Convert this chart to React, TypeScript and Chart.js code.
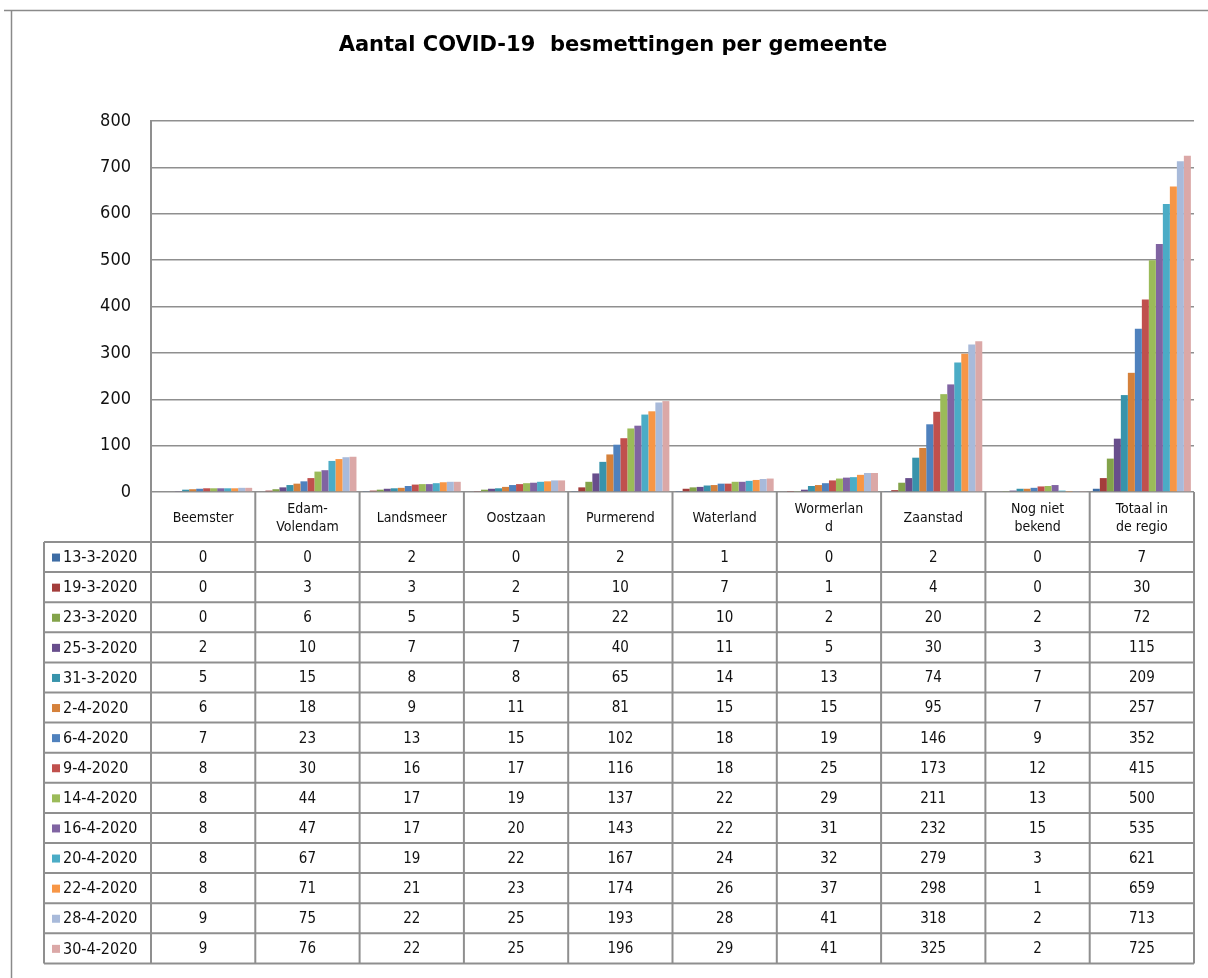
import React, { useEffect, useRef } from "react";
import { Chart, registerables } from "chart.js";

Chart.register(...registerables);

const TITLE = "Aantal COVID-19  besmettingen per gemeente";

const categories: string[][] = [
  ["Beemster"],
  ["Edam-", "Volendam"],
  ["Landsmeer"],
  ["Oostzaan"],
  ["Purmerend"],
  ["Waterland"],
  ["Wormerlan", "d"],
  ["Zaanstad"],
  ["Nog niet", "bekend"],
  ["Totaal in", "de regio"],
];

const dates = [
  "13-3-2020", "19-3-2020", "23-3-2020", "25-3-2020", "31-3-2020", "2-4-2020", "6-4-2020",
  "9-4-2020", "14-4-2020", "16-4-2020", "20-4-2020", "22-4-2020", "28-4-2020", "30-4-2020",
];

const d13_3 = [0, 0, 2, 0, 2, 1, 0, 2, 0, 7];
const d19_3 = [0, 3, 3, 2, 10, 7, 1, 4, 0, 30];
const d23_3 = [0, 6, 5, 5, 22, 10, 2, 20, 2, 72];
const d25_3 = [2, 10, 7, 7, 40, 11, 5, 30, 3, 115];
const d31_3 = [5, 15, 8, 8, 65, 14, 13, 74, 7, 209];
const d2_4 = [6, 18, 9, 11, 81, 15, 15, 95, 7, 257];
const d6_4 = [7, 23, 13, 15, 102, 18, 19, 146, 9, 352];
const d9_4 = [8, 30, 16, 17, 116, 18, 25, 173, 12, 415];
const d14_4 = [8, 44, 17, 19, 137, 22, 29, 211, 13, 500];
const d16_4 = [8, 47, 17, 20, 143, 22, 31, 232, 15, 535];
const d20_4 = [8, 67, 19, 22, 167, 24, 32, 279, 3, 621];
const d22_4 = [8, 71, 21, 23, 174, 26, 37, 298, 1, 659];
const d28_4 = [9, 75, 22, 25, 193, 28, 41, 318, 2, 713];
const d30_4 = [9, 76, 22, 25, 196, 29, 41, 325, 2, 725];

const seriesValues = [
  d13_3, d19_3, d23_3, d25_3, d31_3, d2_4, d6_4, d9_4, d14_4, d16_4, d20_4, d22_4, d28_4, d30_4,
];

const colors = [
  "#3D6CA4", "#A33D3B", "#83A34A", "#684E8C", "#3893AB", "#D5813B", "#4F81BD",
  "#C0504D", "#9BBB59", "#8064A2", "#4BACC6", "#F79646", "#A8BADA", "#DBA8A7",
];

const yTicks = [0, 100, 200, 300, 400, 500, 600, 700, 800];

const FONT = "'DejaVu Sans Condensed', 'DejaVu Sans', sans-serif";
const TITLE_FONT = "'DejaVu Sans', sans-serif";
const LINE = "#8f8f8f";

const tablePlugin = {
  id: "dataTable",
  afterDraw(chart: any) {
    const { ctx, chartArea } = chart;
    const xs = chart.scales.x;
    const n = categories.length;
    const colW = (xs.right - xs.left) / n;
    const top = chartArea.bottom;
    const headerH = 50;
    const rowH = 30.1;
    const legendLeft = 44;
    const bodyTop = top + headerH;
    const bottom = bodyTop + rowH * dates.length;

    ctx.save();
    // outer frame
    ctx.strokeStyle = "#8a8a8a";
    ctx.lineWidth = 1.5;
    ctx.beginPath();
    ctx.moveTo(4, 10.5);
    ctx.lineTo(chart.width + 5, 10.5);
    ctx.moveTo(11.5, 10.5);
    ctx.lineTo(11.5, chart.height + 5);
    ctx.stroke();

    // title
    ctx.fillStyle = "#000";
    ctx.font = `bold 21px ${TITLE_FONT}`;
    ctx.textAlign = "center";
    ctx.textBaseline = "middle";
    ctx.fillText(TITLE, 613, 46);

    // table lines
    ctx.strokeStyle = LINE;
    ctx.lineWidth = 2;
    ctx.beginPath();
    for (let k = 0; k <= dates.length; k++) {
      const y = bodyTop + k * rowH;
      ctx.moveTo(legendLeft, y);
      ctx.lineTo(xs.right, y);
    }
    ctx.moveTo(legendLeft, bodyTop);
    ctx.lineTo(legendLeft, bottom);
    for (let i = 0; i <= n; i++) {
      const x = xs.getPixelForValue(Math.min(i, n - 1)) + (i === n ? colW / 2 : -colW / 2);
      ctx.moveTo(x, top);
      ctx.lineTo(x, bottom);
    }
    ctx.stroke();

    // header
    ctx.fillStyle = "#111";
    ctx.font = `14px ${FONT}`;
    ctx.textAlign = "center";
    ctx.textBaseline = "middle";
    categories.forEach((lines, i) => {
      const cx = xs.getPixelForValue(i);
      const cy = top + headerH / 2 + 1;
      const lh = 18;
      lines.forEach((t, j) => {
        ctx.fillText(t, cx, cy + (j - (lines.length - 1) / 2) * lh);
      });
    });

    // body
    dates.forEach((d, r) => {
      const cy = bodyTop + (r + 0.5) * rowH + 1;
      ctx.fillStyle = colors[r];
      ctx.fillRect(52, cy - 4.5, 8, 8);
      ctx.fillStyle = "#111";
      ctx.textAlign = "left";
      ctx.font = `16px ${FONT}`;
      ctx.fillText(d, 63, cy);
      ctx.textAlign = "center";
      ctx.font = `15px ${FONT}`;
      seriesValues[r].forEach((v, i) => {
        ctx.fillText(String(v), xs.getPixelForValue(i), cy);
      });
    });
    ctx.restore();
  },
};

export default function App() {
  const ref = useRef<HTMLCanvasElement | null>(null);
  useEffect(() => {
    if (!ref.current) return;
    const chart = new Chart(ref.current, {
      type: "bar",
      data: {
        labels: categories.map((c) => c.join(" ")),
        datasets: dates.map((d, r) => ({
          label: d,
          data: seriesValues[r],
          backgroundColor: colors[r],
          borderWidth: 0,
          categoryPercentage: 0.94,
          barPercentage: 1,
        })),
      },
      options: {
        responsive: false,
        animation: false,
        layout: { padding: { left: 0, top: 121, right: 14, bottom: 486 } },
        plugins: {
          legend: { display: false },
          title: { display: false },
          tooltip: { enabled: false },
        },
        scales: {
          x: {
            ticks: { display: false },
            grid: { display: false },
            border: { display: false },
            afterFit: (s: any) => {
              s.height = 0;
            },
          },
          y: {
            min: 0,
            max: 800,
            afterBuildTicks: (s: any) => {
              s.ticks = yTicks.map((v) => ({ value: v }));
            },
            ticks: {
              color: "#111",
              font: { family: FONT, size: 18 },
              padding: 20,
            },
            grid: { color: "#8f8f8f", lineWidth: 1.5, drawTicks: false },
            border: { display: true, color: "#8f8f8f", width: 2 },
            afterFit: (s: any) => {
              s.width = 151;
            },
          },
        },
      },
      plugins: [tablePlugin],
    });
    return () => chart.destroy();
  }, []);
  return (
    <div style={{ position: "absolute", left: 0, top: 0, width: 1208, height: 978, background: "#fff" }}>
      <canvas ref={ref} width={1208} height={978} style={{ width: 1208, height: 978, display: "block" }} />
    </div>
  );
}
